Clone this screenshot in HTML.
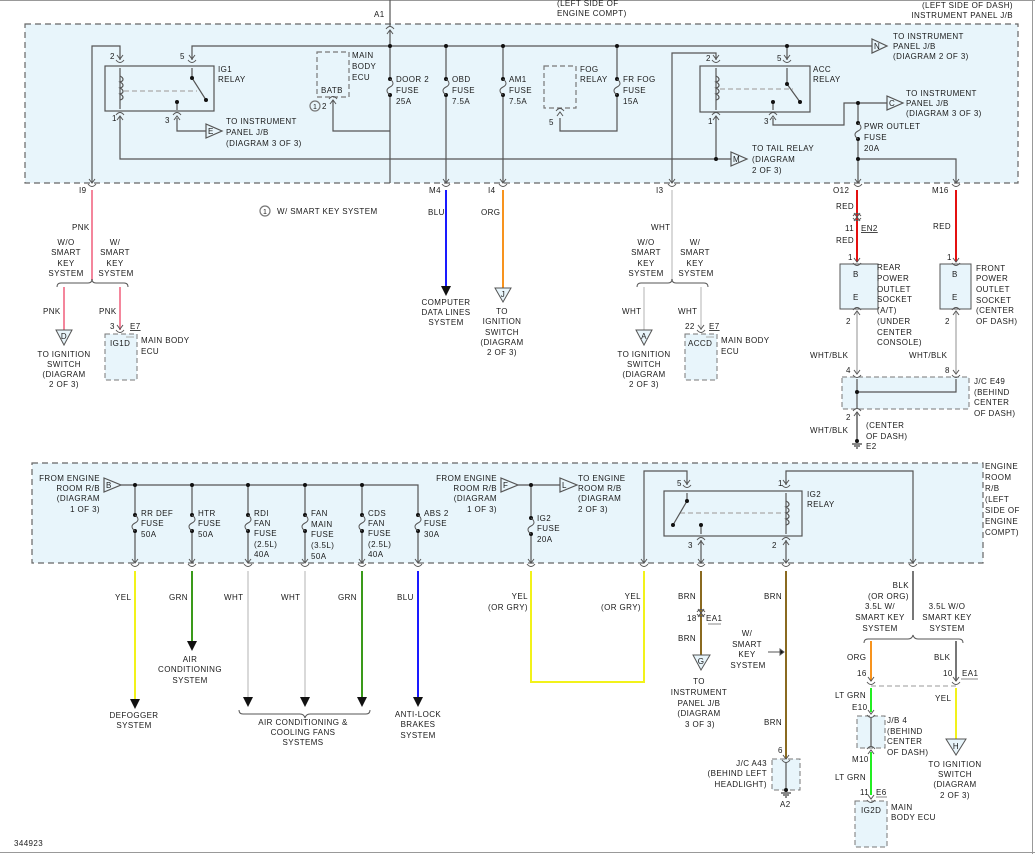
<!DOCTYPE html>
<html><head><meta charset="utf-8"><style>
html,body{margin:0;padding:0;background:#fff;}
svg{display:block;}
text{font-family:"Liberation Sans",Arial,sans-serif;font-size:8px;fill:#1a1a1a;letter-spacing:0.4px;}
.m{text-anchor:middle}.e{text-anchor:end}
</style></head><body>
<svg width="1035" height="854" viewBox="0 0 1035 854" xmlns="http://www.w3.org/2000/svg">
<defs>
<g id="cn"><path d="M-4,-3 Q0,2 4,-3" fill="none" stroke="#555" stroke-width="1"/><path d="M-3,-8 L0,-4 L3,-8" fill="none" stroke="#555" stroke-width="1"/></g>
<g id="cu"><path d="M-4,3 Q0,-2 4,3" fill="none" stroke="#555" stroke-width="1"/><path d="M-3,8 L0,4 L3,8" fill="none" stroke="#555" stroke-width="1"/></g>
<g id="fu"><rect x="-3" y="1" width="6" height="14" fill="#e8f5fb"/><circle cx="0" cy="0" r="2" fill="#111"/><circle cx="0" cy="16" r="2" fill="#111"/><path d="M0,0 C4,3 4,6 0,8 C-4,10 -4,13 0,16" fill="none" stroke="#555" stroke-width="1"/></g>
<g id="ar"><path d="M-5,0 L5,0 L0,10 Z" fill="#111"/></g>
<g id="gnd"><circle cx="0" cy="0" r="2" fill="#111"/><path d="M-5,3 H5 M-3,5 H3 M-1,7 H1" stroke="#111" stroke-width="1"/></g>
</defs>
<path d="M0,0.5 H1035 M1032.5,0 V854 M0,852.5 H1035" stroke="#999" stroke-width="1"/>
<text x="557" y="6">(LEFT SIDE OF</text><text x="557" y="16">ENGINE COMPT)</text>
<text class="e" x="1013" y="8">(LEFT SIDE OF DASH)</text><text class="e" x="1013" y="18">INSTRUMENT PANEL J/B</text>

<rect x="25" y="24" width="993" height="159" fill="#e8f5fb" stroke="#666" stroke-dasharray="6,4" stroke-width="1.2"/>
<g stroke="#555" stroke-width="1.2" fill="none">
<path d="M390,0 V26"/><path d="M390,30 V183"/>
<path d="M192,60 V46 H872"/>
<path d="M92,183 V46 H120 V60"/>
<path d="M120,116 V159 H731"/>
<path d="M177,118 V131 H206"/>
<path d="M333,100 V131 H390"/>
<path d="M446,46 V183"/><path d="M503,46 V183"/>
<path d="M560,118 V131 H617 V46"/>
<path d="M672,183 V53 H716 V60"/>
<path d="M787,46 V60"/>
<path d="M716,116 V159"/>
<path d="M773,118 V125 H844 V103 H887"/>
<path d="M858,103 V183"/>
<path d="M858,159 H956 V183"/>
<rect x="105" y="66" width="109" height="45" fill="#e8f5fb"/>
<rect x="700" y="66" width="110" height="46" fill="#e8f5fb"/>
<rect x="317" y="52" width="32" height="45" stroke-dasharray="5,3" stroke="#777"/>
<rect x="544" y="66" width="32" height="42" stroke-dasharray="5,3" stroke="#777"/>
<path d="M120,68 V109"/><path d="M120,76 c4,2 4,5 0,6 c4,2 4,5 0,6 c4,2 4,5 0,6 c4,2 4,5 0,6" />
<path d="M124,91 H197" stroke="#aaa" stroke-dasharray="5,3"/>
<path d="M192,68 V78 L206,100"/><path d="M177,102 V110"/>
<path d="M716,68 V110"/><path d="M716,76 c4,2 4,5 0,6 c4,2 4,5 0,6 c4,2 4,5 0,6 c4,2 4,5 0,6"/>
<path d="M720,89 H793" stroke="#aaa" stroke-dasharray="5,3"/>
<path d="M787,68 V84 L800,102"/><path d="M773,102 V110"/>
<path d="M206,124 L222,131 L206,138 Z" fill="#e8f5fb"/>
<path d="M872,39 L887,46 L872,53 Z" fill="#e8f5fb"/>
<path d="M887,96 L903,103 L887,110 Z" fill="#e8f5fb"/>
<path d="M731,152 L747,159 L731,166 Z" fill="#e8f5fb"/>
<circle cx="315" cy="106" r="5" stroke="#777"/>
<circle cx="265" cy="211" r="5" stroke="#777"/>
</g>
<g fill="#111"><circle cx="192" cy="78" r="2"/><circle cx="206" cy="100" r="2"/><circle cx="177" cy="102" r="2"/>
<circle cx="787" cy="84" r="2"/><circle cx="800" cy="102" r="2"/><circle cx="773" cy="102" r="2"/>
<circle cx="390" cy="46" r="2"/><circle cx="446" cy="46" r="2"/><circle cx="503" cy="46" r="2"/><circle cx="617" cy="46" r="2"/><circle cx="787" cy="46" r="2"/>
<circle cx="716" cy="159" r="2"/><circle cx="858" cy="103" r="2"/><circle cx="858" cy="159" r="2"/></g>
<use href="#fu" x="390" y="79"/><use href="#fu" x="446" y="79"/><use href="#fu" x="503" y="79"/><use href="#fu" x="617" y="79"/><use href="#fu" x="858" y="123"/>
<use href="#cu" x="390" y="26"/>
<use href="#cn" x="120" y="63"/><use href="#cn" x="192" y="63"/><use href="#cu" x="120" y="112"/><use href="#cu" x="177" y="112"/>
<use href="#cn" x="716" y="63"/><use href="#cn" x="787" y="63"/><use href="#cu" x="716" y="112"/><use href="#cu" x="773" y="112"/>
<use href="#cu" x="333" y="96"/><use href="#cu" x="560" y="108"/>
<g><use href="#cn" x="92" y="187"/><use href="#cn" x="446" y="187"/><use href="#cn" x="503" y="187"/><use href="#cn" x="672" y="187"/><use href="#cn" x="858" y="187"/><use href="#cn" x="956" y="187"/></g>
<text x="374" y="17">A1</text>
<text x="110" y="59">2</text><text x="180" y="59">5</text><text x="112" y="121">1</text><text x="165" y="123">3</text>
<text x="218" y="72">IG1</text><text x="218" y="82">RELAY</text>
<text x="226" y="124">TO INSTRUMENT</text><text x="226" y="135">PANEL J/B</text><text x="226" y="146">(DIAGRAM 3 OF 3)</text>
<text x="208" y="134">E</text>
<text x="352" y="58">MAIN</text><text x="352" y="69">BODY</text><text x="352" y="80">ECU</text>
<text x="321" y="93">BATB</text><text x="313" y="109" style="font-size:7px">1</text><text x="322" y="109">2</text>
<text x="396" y="82">DOOR 2</text><text x="396" y="93">FUSE</text><text x="396" y="104">25A</text>
<text x="452" y="82">OBD</text><text x="452" y="93">FUSE</text><text x="452" y="104">7.5A</text>
<text x="509" y="82">AM1</text><text x="509" y="93">FUSE</text><text x="509" y="104">7.5A</text>
<text x="580" y="72">FOG</text><text x="580" y="82">RELAY</text><text x="549" y="125">5</text>
<text x="623" y="82">FR FOG</text><text x="623" y="93">FUSE</text><text x="623" y="104">15A</text>
<text x="706" y="61">2</text><text x="777" y="61">5</text><text x="708" y="124">1</text><text x="764" y="124">3</text>
<text x="813" y="72">ACC</text><text x="813" y="82">RELAY</text>
<text x="874" y="49">N</text><text x="889" y="106">C</text><text x="733" y="162">M</text>
<text x="893" y="39">TO INSTRUMENT</text><text x="893" y="49">PANEL J/B</text><text x="893" y="59">(DIAGRAM 2 OF 3)</text>
<text x="906" y="96">TO INSTRUMENT</text><text x="906" y="106">PANEL J/B</text><text x="906" y="116">(DIAGRAM 3 OF 3)</text>
<text x="864" y="129">PWR OUTLET</text><text x="864" y="140">FUSE</text><text x="864" y="151">20A</text>
<text x="752" y="151">TO TAIL RELAY</text><text x="752" y="162">(DIAGRAM</text><text x="752" y="173">2 OF 3)</text>
<text x="79" y="193">I9</text><text x="429" y="193">M4</text><text x="488" y="193">I4</text><text x="656" y="193">I3</text><text x="833" y="193">O12</text><text x="932" y="193">M16</text>

<g fill="none" stroke-width="2">
<path d="M92,190 V280" stroke="#f4869c"/><path d="M64,287 V330" stroke="#f4869c"/><path d="M120,287 V330" stroke="#f4869c"/>
<path d="M446,190 V287" stroke="#1a1aff"/>
<path d="M503,190 V288" stroke="#f7931e"/>
<path d="M672,190 V280" stroke="#d9d9d9"/><path d="M644,287 V330" stroke="#d9d9d9"/><path d="M701,287 V330" stroke="#d9d9d9"/>
<path d="M857,190 V262" stroke="#e41010"/><path d="M956,190 V262" stroke="#e41010"/>
<path d="M857,312 V373" stroke="#c8c8c8"/><path d="M956,312 V373" stroke="#c8c8c8"/><path d="M857,412 V440" stroke="#888"/>
</g>
<g fill="none" stroke="#555" stroke-width="1">
<path d="M57,287 q0,-4 4,-4 H88 q4,0 4,-4 q0,4 4,4 H124 q4,0 4,4"/>
<path d="M637,287 q0,-4 4,-4 H668 q4,0 4,-4 q0,4 4,4 H704 q4,0 4,4"/>
<path d="M56,330 H72 L64,345 Z" fill="#e8f5fb"/>
<path d="M495,288 H511 L503,302 Z" fill="#e8f5fb"/>
<path d="M636,330 H652 L644,345 Z" fill="#e8f5fb"/>
<rect x="105" y="334" width="32" height="46" fill="#e8f5fb" stroke="#777" stroke-dasharray="5,3"/>
<rect x="685" y="334" width="32" height="46" fill="#e8f5fb" stroke="#777" stroke-dasharray="5,3"/>
<rect x="840" y="264" width="38" height="45" fill="#e8f5fb"/>
<rect x="940" y="264" width="31" height="45" fill="#e8f5fb"/>
<rect x="842" y="377" width="127" height="32" fill="#e8f5fb" stroke="#777" stroke-dasharray="5,3"/>
<path d="M857,379 V408 M857,392 H956 V379" stroke-width="1.2"/>
<path d="M126,337 H134 M706,337 H714" stroke="#aaa"/>
</g>
<circle cx="857" cy="392" r="2" fill="#111"/>
<use href="#ar" x="446" y="286"/>
<use href="#cn" x="120" y="333"/><use href="#cn" x="701" y="333"/>
<use href="#cu" x="857" y="213"/><use href="#cn" x="857" y="221"/>
<use href="#cn" x="857" y="266"/><use href="#cn" x="956" y="266"/><use href="#cu" x="857" y="307"/><use href="#cu" x="956" y="307"/>
<use href="#cn" x="857" y="378"/><use href="#cn" x="956" y="378"/><use href="#cu" x="857" y="408"/>
<use href="#gnd" x="857" y="441"/>
<text x="72" y="230">PNK</text>
<text class="m" x="66" y="245">W/O</text><text class="m" x="66" y="255">SMART</text><text class="m" x="66" y="266">KEY</text><text class="m" x="66" y="276">SYSTEM</text>
<text class="m" x="115" y="245">W/</text><text class="m" x="115" y="255">SMART</text><text class="m" x="115" y="266">KEY</text><text class="m" x="116" y="276">SYSTEM</text>
<text x="43" y="314">PNK</text><text x="99" y="314">PNK</text>
<text class="m" x="64" y="339">D</text>
<text class="m" x="64" y="357">TO IGNITION</text><text class="m" x="64" y="367">SWITCH</text><text class="m" x="64" y="377">(DIAGRAM</text><text class="m" x="64" y="387">2 OF 3)</text>
<text x="110" y="329">3</text><text x="130" y="329" text-decoration="underline">E7</text>
<text x="110" y="346">IG1D</text><text x="141" y="343">MAIN BODY</text><text x="141" y="354">ECU</text>
<text x="263" y="214" style="font-size:7px">1</text><text x="277" y="214">W/ SMART KEY SYSTEM</text>
<text x="428" y="215">BLU</text><text x="481" y="215">ORG</text>
<text class="m" x="446" y="305">COMPUTER</text><text class="m" x="446" y="315">DATA LINES</text><text class="m" x="446" y="325">SYSTEM</text>
<text class="m" x="503" y="297">J</text>
<text class="m" x="502" y="314">TO</text><text class="m" x="502" y="324">IGNITION</text><text class="m" x="502" y="335">SWITCH</text><text class="m" x="502" y="345">(DIAGRAM</text><text class="m" x="502" y="355">2 OF 3)</text>
<text x="651" y="230">WHT</text>
<text class="m" x="646" y="245">W/O</text><text class="m" x="646" y="255">SMART</text><text class="m" x="646" y="266">KEY</text><text class="m" x="646" y="276">SYSTEM</text>
<text class="m" x="695" y="245">W/</text><text class="m" x="695" y="255">SMART</text><text class="m" x="695" y="266">KEY</text><text class="m" x="696" y="276">SYSTEM</text>
<text x="622" y="314">WHT</text><text x="678" y="314">WHT</text>
<text class="m" x="644" y="339">A</text>
<text class="m" x="644" y="357">TO IGNITION</text><text class="m" x="644" y="367">SWITCH</text><text class="m" x="644" y="377">(DIAGRAM</text><text class="m" x="644" y="387">2 OF 3)</text>
<text x="685" y="329">22</text><text x="709" y="329" text-decoration="underline">E7</text>
<text x="688" y="346">ACCD</text><text x="721" y="343">MAIN BODY</text><text x="721" y="354">ECU</text>
<text x="836" y="209">RED</text><text x="845" y="231">11</text><text x="861" y="231" text-decoration="underline">EN2</text><text x="836" y="243">RED</text>
<text x="933" y="229">RED</text>
<text x="848" y="260">1</text><text x="947" y="260">1</text>
<text x="853" y="277">B</text><text x="853" y="300">E</text><text x="952" y="277">B</text><text x="952" y="300">E</text>
<text x="877" y="270">REAR</text><text x="877" y="281">POWER</text><text x="877" y="292">OUTLET</text><text x="877" y="302">SOCKET</text><text x="877" y="313">(A/T)</text><text x="877" y="324">(UNDER</text><text x="877" y="335">CENTER</text><text x="877" y="345">CONSOLE)</text>
<text x="976" y="271">FRONT</text><text x="976" y="281">POWER</text><text x="976" y="292">OUTLET</text><text x="976" y="303">SOCKET</text><text x="976" y="313">(CENTER</text><text x="976" y="324">OF DASH)</text>
<text x="846" y="324">2</text><text x="945" y="324">2</text>
<text x="810" y="358">WHT/BLK</text><text x="909" y="358">WHT/BLK</text>
<text x="846" y="373">4</text><text x="945" y="373">8</text>
<text x="974" y="384">J/C E49</text><text x="974" y="395">(BEHIND</text><text x="974" y="405">CENTER</text><text x="974" y="416">OF DASH)</text>
<text x="846" y="420">2</text><text x="810" y="433">WHT/BLK</text>
<text x="866" y="428">(CENTER</text><text x="866" y="439">OF DASH)</text><text x="866" y="449">E2</text>

<rect x="32" y="463" width="951" height="100" fill="#e8f5fb" stroke="#666" stroke-dasharray="6,4" stroke-width="1.2"/>
<g stroke="#555" stroke-width="1.2" fill="none">
<path d="M121,485 H418 V563"/>
<path d="M135,485 V563 M192,485 V563 M248,485 V563 M305,485 V563 M362,485 V563"/>
<path d="M518,485 H560"/><path d="M531,485 V563"/>
<path d="M644,563 V471 H687 V485"/>
<path d="M786,485 V471 H913 V563"/>
<path d="M701,540 V563"/><path d="M786,540 V563"/>
<rect x="664" y="491" width="138" height="45" fill="#e8f5fb"/>
<path d="M786,493 V534"/><path d="M786,501 c4,2 4,5 0,6 c4,2 4,5 0,6 c4,2 4,5 0,6 c4,2 4,5 0,6"/>
<path d="M680,513 H782" stroke="#aaa" stroke-dasharray="5,3"/>
<path d="M687,493 V501 L673,525"/><path d="M701,525 V534"/>
<path d="M104,478 L121,485 L104,492 Z" fill="#e8f5fb"/>
<path d="M501,478 L518,485 L501,492 Z" fill="#e8f5fb"/>
<path d="M560,478 L577,485 L560,492 Z" fill="#e8f5fb"/>
</g>
<g fill="#111"><circle cx="135" cy="485" r="2"/><circle cx="192" cy="485" r="2"/><circle cx="248" cy="485" r="2"/><circle cx="305" cy="485" r="2"/><circle cx="362" cy="485" r="2"/><circle cx="531" cy="485" r="2"/>
<circle cx="687" cy="501" r="2"/><circle cx="673" cy="525" r="2"/><circle cx="701" cy="525" r="2"/></g>
<use href="#fu" x="135" y="515"/><use href="#fu" x="192" y="515"/><use href="#fu" x="248" y="515"/><use href="#fu" x="305" y="515"/><use href="#fu" x="362" y="515"/><use href="#fu" x="418" y="515"/><use href="#fu" x="531" y="518"/>
<use href="#cn" x="687" y="488"/><use href="#cn" x="786" y="488"/><use href="#cu" x="701" y="537"/><use href="#cu" x="786" y="537"/>
<use href="#cn" x="135" y="567"/><use href="#cn" x="192" y="567"/><use href="#cn" x="248" y="567"/><use href="#cn" x="305" y="567"/><use href="#cn" x="362" y="567"/><use href="#cn" x="418" y="567"/><use href="#cn" x="531" y="567"/><use href="#cn" x="644" y="567"/><use href="#cn" x="701" y="567"/><use href="#cn" x="786" y="567"/><use href="#cn" x="913" y="567"/>
<text x="106" y="488">B</text><text x="503" y="488">F</text><text x="562" y="488">L</text>
<text class="e" x="100" y="481">FROM ENGINE</text><text class="e" x="100" y="491">ROOM R/B</text><text class="e" x="100" y="501">(DIAGRAM</text><text class="e" x="100" y="512">1 OF 3)</text>
<text class="e" x="497" y="481">FROM ENGINE</text><text class="e" x="497" y="491">ROOM R/B</text><text class="e" x="497" y="501">(DIAGRAM</text><text class="e" x="497" y="512">1 OF 3)</text>
<text x="578" y="481">TO ENGINE</text><text x="578" y="491">ROOM R/B</text><text x="578" y="501">(DIAGRAM</text><text x="578" y="512">2 OF 3)</text>
<text x="141" y="516">RR DEF</text><text x="141" y="526">FUSE</text><text x="141" y="537">50A</text>
<text x="198" y="516">HTR</text><text x="198" y="526">FUSE</text><text x="198" y="537">50A</text>
<text x="254" y="516">RDI</text><text x="254" y="526">FAN</text><text x="254" y="536">FUSE</text><text x="254" y="547">(2.5L)</text><text x="254" y="557">40A</text>
<text x="311" y="516">FAN</text><text x="311" y="527">MAIN</text><text x="311" y="537">FUSE</text><text x="311" y="548">(3.5L)</text><text x="311" y="559">50A</text>
<text x="368" y="516">CDS</text><text x="368" y="526">FAN</text><text x="368" y="536">FUSE</text><text x="368" y="547">(2.5L)</text><text x="368" y="557">40A</text>
<text x="424" y="516">ABS 2</text><text x="424" y="526">FUSE</text><text x="424" y="537">30A</text>
<text x="537" y="521">IG2</text><text x="537" y="531">FUSE</text><text x="537" y="542">20A</text>
<text x="677" y="486">5</text><text x="778" y="486">1</text><text x="688" y="548">3</text><text x="772" y="548">2</text>
<text x="807" y="497">IG2</text><text x="807" y="507">RELAY</text>
<text x="985" y="469">ENGINE</text><text x="985" y="480">ROOM</text><text x="985" y="491">R/B</text><text x="985" y="502">(LEFT</text><text x="985" y="513">SIDE OF</text><text x="985" y="524">ENGINE</text><text x="985" y="535">COMPT)</text>

<g fill="none" stroke-width="2">
<path d="M135,571 V701" stroke="#f2f21a"/>
<path d="M192,571 V643" stroke="#3a9a1a"/>
<path d="M248,571 V698" stroke="#d9d9d9"/><path d="M305,571 V698" stroke="#d9d9d9"/>
<path d="M362,571 V698" stroke="#3a9a1a"/>
<path d="M418,571 V698" stroke="#1a1aff"/>
<path d="M531,571 V682 H644 V571" stroke="#f2f21a"/>
<path d="M701,571 V656" stroke="#8a6a20"/>
<path d="M786,571 V760" stroke="#8a6a20"/>
<path d="M913,571 V620" stroke="#777"/>
<path d="M871,641 V681" stroke="#f7931e"/><path d="M956,641 V681" stroke="#777"/>
<path d="M871,688 V712" stroke="#22ee22"/><path d="M871,752 V795" stroke="#22ee22"/>
<path d="M956,688 V739" stroke="#f2f21a"/>
</g>
<use href="#ar" x="135" y="699"/><use href="#ar" x="192" y="641"/><use href="#ar" x="248" y="697"/><use href="#ar" x="305" y="697"/><use href="#ar" x="362" y="697"/><use href="#ar" x="418" y="697"/>
<g fill="none" stroke="#555" stroke-width="1">
<path d="M239,710 q0,4 4,4 H300 q4,0 5,4 q1,-4 5,-4 H366 q4,0 4,-4"/>
<path d="M864,643 q0,-4 4,-4 H908 q4,0 5,-4 q1,4 5,4 H959 q4,0 4,4"/>
<path d="M871,686 H956" stroke="#999" stroke-dasharray="5,3"/>
<path d="M768,652 H782"/><path d="M780,649 L784,652 L780,655 Z" fill="#111"/>
<path d="M693,655 H710 L701,670 Z" fill="#e8f5fb"/>
<path d="M946,739 H966 L956,755 Z" fill="#e8f5fb"/>
<rect x="772" y="759" width="28" height="31" fill="#e8f5fb" stroke="#777" stroke-dasharray="5,3"/>
<path d="M786,762 V788" stroke-width="1.2"/>
<rect x="857" y="716" width="28" height="32" fill="#e8f5fb" stroke="#777" stroke-dasharray="5,3"/>
<path d="M871,718 V746" stroke-width="1.2"/>
<rect x="855" y="801" width="32" height="46" fill="#e8f5fb" stroke="#777" stroke-dasharray="5,3"/>
<path d="M708,624 H721 M961,679 H978 M876,797 H887" stroke="#888"/>
</g>
<use href="#cu" x="701" y="609"/><use href="#cn" x="701" y="617"/>
<use href="#cn" x="786" y="763"/><use href="#gnd" x="786" y="790"/>
<use href="#cn" x="871" y="685"/><use href="#cn" x="956" y="685"/>
<use href="#cn" x="871" y="718"/><use href="#cu" x="871" y="746"/><use href="#cn" x="871" y="803"/>
<text x="115" y="600">YEL</text><text x="169" y="600">GRN</text><text x="224" y="600">WHT</text><text x="281" y="600">WHT</text><text x="338" y="600">GRN</text><text x="397" y="600">BLU</text>
<text class="m" x="190" y="662">AIR</text><text class="m" x="190" y="672">CONDITIONING</text><text class="m" x="190" y="683">SYSTEM</text>
<text class="m" x="134" y="718">DEFOGGER</text><text class="m" x="134" y="728">SYSTEM</text>
<text class="m" x="303" y="725">AIR CONDITIONING &amp;</text><text class="m" x="303" y="735">COOLING FANS</text><text class="m" x="303" y="745">SYSTEMS</text>
<text class="m" x="418" y="717">ANTI-LOCK</text><text class="m" x="418" y="727">BRAKES</text><text class="m" x="418" y="738">SYSTEM</text>
<text class="e" x="528" y="599">YEL</text><text class="e" x="528" y="610">(OR GRY)</text>
<text class="e" x="641" y="599">YEL</text><text class="e" x="641" y="610">(OR GRY)</text>
<text x="678" y="599">BRN</text><text x="687" y="621">18</text><text x="706" y="621">EA1</text><text x="678" y="641">BRN</text>
<text class="m" x="701" y="664">G</text>
<text class="m" x="699" y="684">TO</text><text class="m" x="699" y="695">INSTRUMENT</text><text class="m" x="699" y="706">PANEL J/B</text><text class="m" x="699" y="716">(DIAGRAM</text><text class="m" x="700" y="727">3 OF 3)</text>
<text x="764" y="599">BRN</text><text x="764" y="725">BRN</text>
<text class="m" x="747" y="636">W/</text><text class="m" x="747" y="647">SMART</text><text class="m" x="747" y="657">KEY</text><text class="m" x="748" y="668">SYSTEM</text>
<text x="778" y="753">6</text>
<text class="e" x="767" y="766">J/C A43</text><text class="e" x="767" y="776">(BEHIND LEFT</text><text class="e" x="767" y="787">HEADLIGHT)</text>
<text x="780" y="807">A2</text>
<text class="e" x="909" y="588">BLK</text><text class="e" x="909" y="599">(OR ORG)</text>
<text class="m" x="880" y="609">3.5L W/</text><text class="m" x="880" y="620">SMART KEY</text><text class="m" x="880" y="631">SYSTEM</text>
<text class="m" x="947" y="609">3.5L W/O</text><text class="m" x="947" y="620">SMART KEY</text><text class="m" x="947" y="631">SYSTEM</text>
<text x="847" y="660">ORG</text><text x="934" y="660">BLK</text>
<text x="857" y="676">16</text><text x="943" y="676">10</text><text x="962" y="676">EA1</text>
<text x="835" y="698">LT GRN</text><text x="935" y="701">YEL</text>
<text x="852" y="710">E10</text>
<text x="887" y="723">J/B 4</text><text x="887" y="734">(BEHIND</text><text x="887" y="744">CENTER</text><text x="887" y="755">OF DASH)</text>
<text x="852" y="762">M10</text><text x="835" y="780">LT GRN</text>
<text x="860" y="795">11</text><text x="876" y="795">E6</text>
<text x="861" y="813">IG2D</text><text x="891" y="810">MAIN</text><text x="891" y="820">BODY ECU</text>
<text class="m" x="956" y="749">H</text>
<text class="m" x="955" y="767">TO IGNITION</text><text class="m" x="955" y="777">SWITCH</text><text class="m" x="955" y="787">(DIAGRAM</text><text class="m" x="955" y="798">2 OF 3)</text>
<text x="14" y="846">344923</text>
</svg>
</body></html>
